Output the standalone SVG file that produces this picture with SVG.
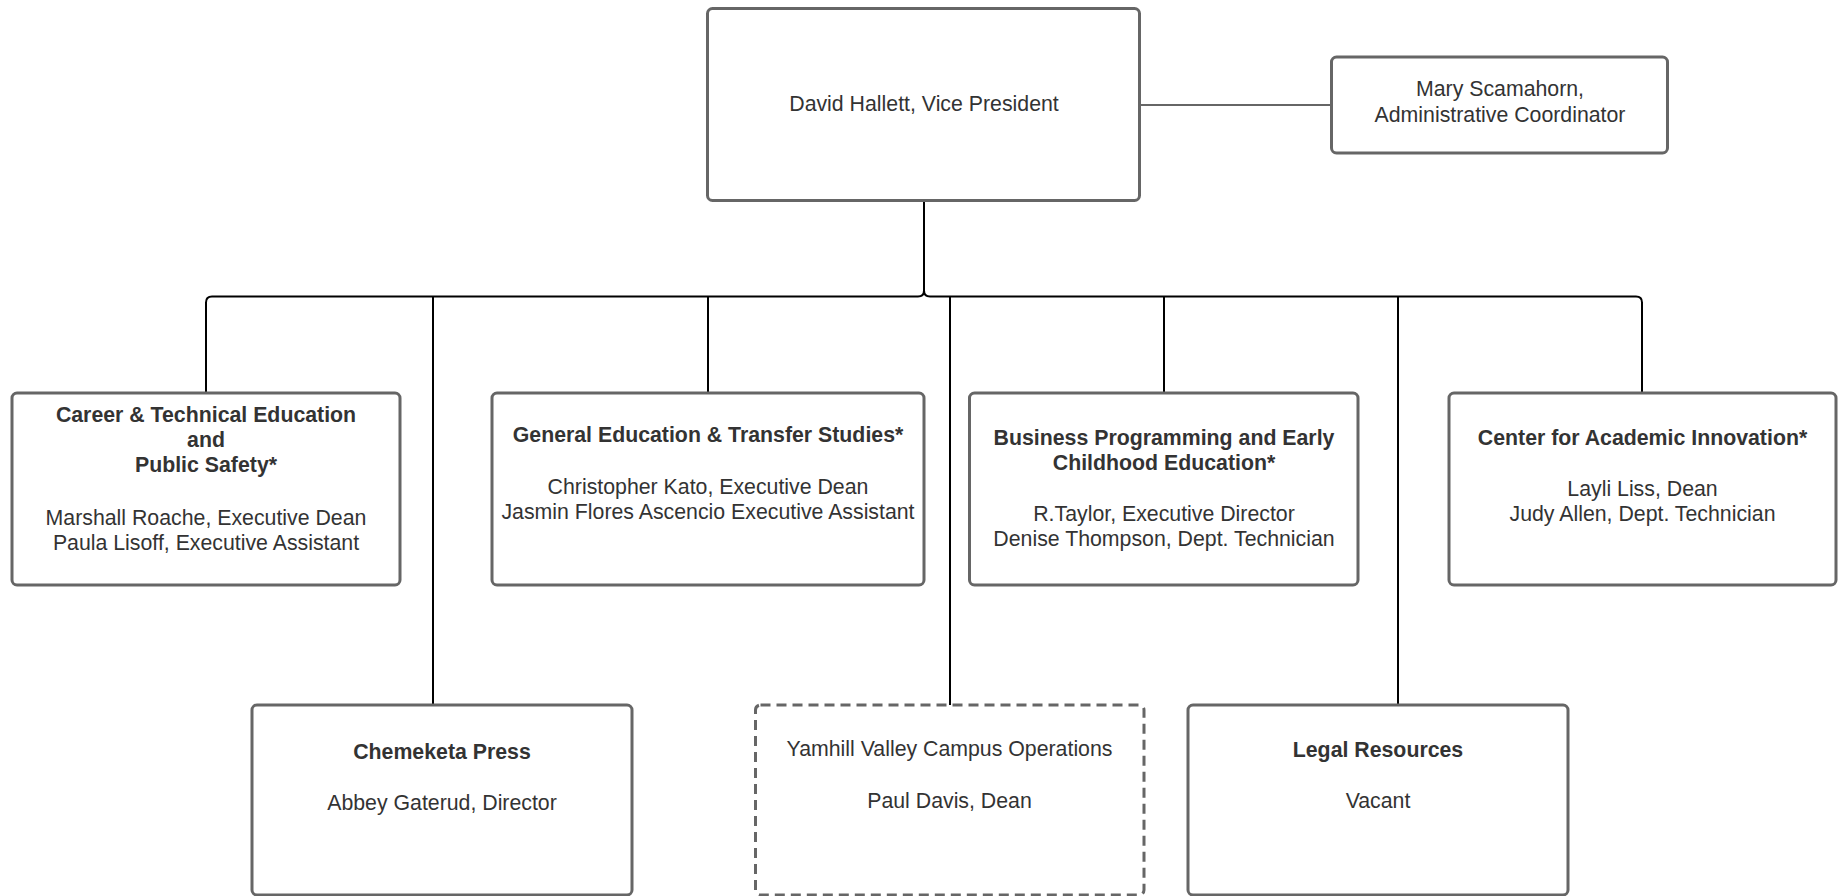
<svg xmlns="http://www.w3.org/2000/svg" width="1845" height="896" viewBox="0 0 1845 896">
<style>
.box{fill:#fff;stroke:#666;stroke-width:3}
.dash{stroke-dasharray:10 6}
.t{font-family:"Liberation Sans",Arial,sans-serif;font-size:21.3px;fill:#333;text-anchor:middle}
.b{font-weight:bold}
.c{fill:none;stroke:#000;stroke-width:2}
.g{fill:none;stroke:#666;stroke-width:2}
</style>
<rect width="1845" height="896" fill="#fff"/>
<g id="connectors">
<path class="g" d="M1140,105 H1331"/>
<path class="c" d="M924,201 V290.5 Q924,296.5 918,296.5 H212 Q206,296.5 206,302.5 V393"/>
<path class="c" d="M924,290.5 Q924,296.5 930,296.5 H1636 Q1642,296.5 1642,302.5 V393"/>
<path class="c" d="M433,296.5 V705"/>
<path class="c" d="M708,296.5 V393"/>
<path class="c" d="M950,296.5 V705"/>
<path class="c" d="M1164,296.5 V393"/>
<path class="c" d="M1398,296.5 V705"/>
</g>
<g id="vp">
<rect class="box" x="707.5" y="8.5" width="432" height="192" rx="5"/>
<text class="t" x="924" y="111">David Hallett, Vice President</text>
</g>
<g id="admin">
<rect class="box" x="1331.5" y="57" width="336" height="96" rx="5"/>
<text class="t" x="1500" y="95.5">Mary Scamahorn,</text>
<text class="t" x="1500" y="121.5">Administrative Coordinator</text>
</g>
<g id="cte">
<rect class="box" x="12" y="393" width="388" height="192" rx="5"/>
<text class="t b" x="206" y="422">Career &amp; Technical Education</text>
<text class="t b" x="206" y="447">and</text>
<text class="t b" x="206" y="472">Public Safety*</text>
<text class="t" x="206" y="525">Marshall Roache, Executive Dean</text>
<text class="t" x="206" y="550">Paula Lisoff, Executive Assistant</text>
</g>
<g id="gened">
<rect class="box" x="492" y="393" width="432" height="192" rx="5"/>
<text class="t b" x="708" y="441.5">General Education &amp; Transfer Studies*</text>
<text class="t" x="708" y="493.5">Christopher Kato, Executive Dean</text>
<text class="t" x="708" y="518.5">Jasmin Flores Ascencio Executive Assistant</text>
</g>
<g id="business">
<rect class="box" x="969.5" y="393" width="388.5" height="192" rx="5"/>
<text class="t b" x="1164" y="444.5">Business Programming and Early</text>
<text class="t b" x="1164" y="469.5">Childhood Education*</text>
<text class="t" x="1164" y="521">R.Taylor, Executive Director</text>
<text class="t" x="1164" y="546">Denise Thompson, Dept. Technician</text>
</g>
<g id="cai">
<rect class="box" x="1449" y="393" width="387" height="192" rx="5"/>
<text class="t b" x="1642.5" y="444.5">Center for Academic Innovation*</text>
<text class="t" x="1642.5" y="495.5">Layli Liss, Dean</text>
<text class="t" x="1642.5" y="520.5">Judy Allen, Dept. Technician</text>
</g>
<g id="press">
<rect class="box" x="252" y="705" width="380" height="190" rx="5"/>
<text class="t b" x="442" y="758.5">Chemeketa Press</text>
<text class="t" x="442" y="809.5">Abbey Gaterud, Director</text>
</g>
<g id="yamhill">
<rect class="box dash" x="755.5" y="705" width="388.5" height="190" rx="5"/>
<text class="t" x="949.5" y="755.5">Yamhill Valley Campus Operations</text>
<text class="t" x="949.5" y="807.5">Paul Davis, Dean</text>
</g>
<g id="legal">
<rect class="box" x="1188" y="705" width="380" height="190" rx="5"/>
<text class="t b" x="1378" y="756.5">Legal Resources</text>
<text class="t" x="1378" y="807.5">Vacant</text>
</g>
</svg>
